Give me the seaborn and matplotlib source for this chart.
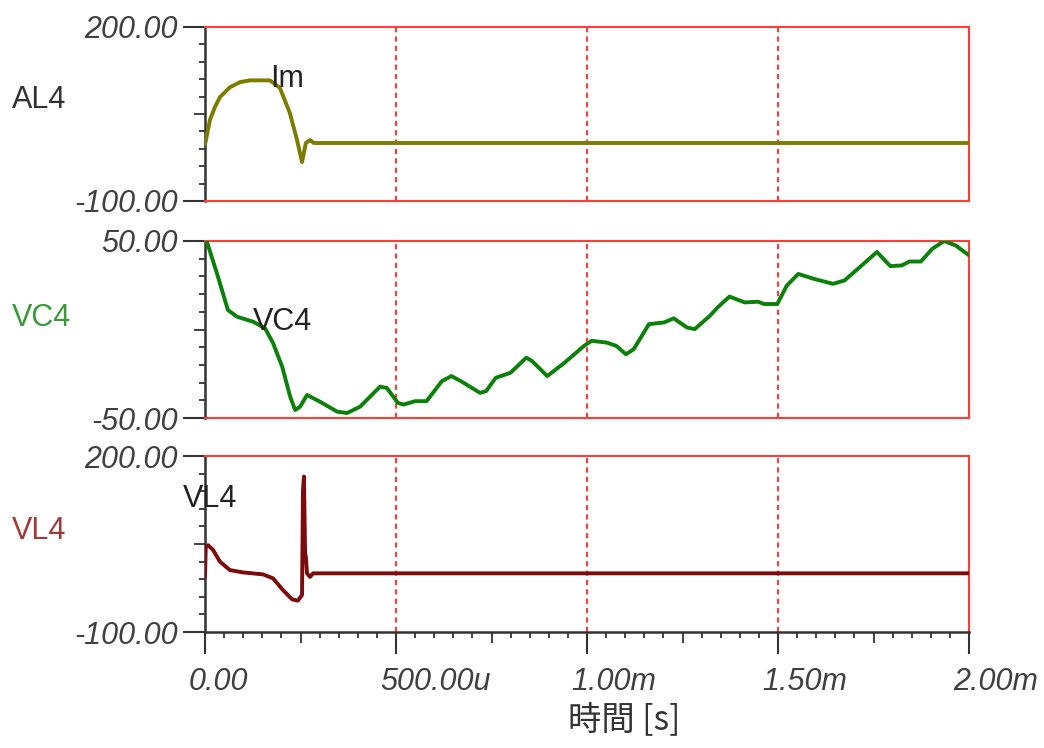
import numpy as np
import pandas as pd
import matplotlib
matplotlib.use("Agg")
import matplotlib.pyplot as plt
import matplotlib.transforms as mtrans
import seaborn as sns

# --- dados (tempo em ms) ---
t_al4 = [0.0, 0.013, 0.026, 0.039, 0.065, 0.092, 0.118, 0.170, 0.196, 0.222,
         0.241, 0.254, 0.264, 0.275, 0.285, 2.0]
v_al4 = [-3, 40, 62, 79, 96, 105, 108, 108, 95, 52,
         5, -33, 0, 5, 0, 0]

t_vc4 = [0.0, 0.005, 0.031, 0.060, 0.084, 0.126, 0.157, 0.178, 0.202, 0.223,
         0.236, 0.249, 0.267, 0.301, 0.346, 0.372, 0.406, 0.458, 0.476, 0.505,
         0.52, 0.55, 0.58, 0.62, 0.645, 0.67, 0.72, 0.736, 0.761, 0.80,
         0.841, 0.856, 0.896, 0.941, 0.992, 1.012, 1.052, 1.077, 1.102, 1.122,
         1.162, 1.202, 1.227, 1.262, 1.282, 1.322, 1.342, 1.373, 1.413, 1.448,
         1.463, 1.498, 1.523, 1.553, 1.594, 1.644, 1.674, 1.714, 1.759, 1.794,
         1.824, 1.844, 1.874, 1.904, 1.935, 1.965, 2.0]
v_vc4 = [50, 49.6, 31.9, 11, 7.2, 4.4, 0.8, -7.6, -21, -38,
         -45.5, -43.6, -37, -40.8, -46.4, -47.2, -43.6, -32.3, -33, -41.5,
         -42.4, -40.5, -40.5, -29.2, -26.3, -29.2, -35.8, -34.8, -27.3, -24.4,
         -15.9, -17.8, -26.3, -18.8, -9.3, -6.4, -7.4, -9.3, -14, -11.2,
         3, 4, 6.3, 1.1, 0.2, 7.8, 12.5, 18.6, 15.3, 15.7,
         14.4, 14.4, 24.8, 31.4, 28.6, 25.8, 27.7, 35.2, 43.8, 35.8,
         36.2, 38.4, 38.4, 45.6, 50, 47.5, 41.9]

t_vl4 = [0.0, 0.002, 0.008, 0.021, 0.039, 0.065, 0.099, 0.152, 0.178, 0.204,
         0.228, 0.243, 0.254, 0.2565, 0.259, 0.262, 0.264, 0.267, 0.275, 0.283, 2.0]
v_vl4 = [-5, 45, 48, 40, 20, 5.6, 1.6, -1.8, -8.5, -28.4,
         -44.3, -46.6, -37, 142, 165, 34.5, 28, 0, -6, 0, 0]

painel_nomes = ["AL4", "VC4", "VL4"]
painel_cores_linha = ["#7c7c00", "#0b800b", "#7d0b0b"]
painel_cores_rotulo = ["#333333", "#3a9a3a", "#a03a3a"]
painel_limites = [(-100, 200), (-50, 50), (-100, 200)]
rotulos_y = [("-100.00", "200.00"), ("-50.00", "50.00"), ("-100.00", "200.00")]
anotacoes = [("Im", 0.170, 96), ("VC4", 0.126, 0), ("VL4", -0.058, 113)]

x_ticks = [0.0, 0.5, 1.0, 1.5, 2.0]
x_rotulos = ["0.00", "500.00u", "1.00m", "1.50m", "2.00m"]
grade_x = [0.5, 1.0, 1.5]

series = [(t_al4, v_al4), (t_vc4, v_vc4), (t_vl4, v_vl4)]

sns.set_style("white")
plt.rcParams['font.family'] = ['Liberation Sans', 'Noto Sans CJK JP', 'DejaVu Sans']

fig = plt.figure(figsize=(10.44, 7.48), dpi=100)
W, H = 1044, 748
left, right = 205, 969
paineis_px = [(27, 201), (241, 418), (456, 632)]

vermelho = "#ff3b3b"
cinza = "#333333"
cor_texto = "#404040"

for i, (topo, base) in enumerate(paineis_px):
    ax = fig.add_axes([left / W, 1 - base / H, (right - left) / W, (base - topo) / H])
    t, v = series[i]
    df = pd.DataFrame({"t": t, "v": v})
    sns.lineplot(data=df, x="t", y="v", ax=ax, color=painel_cores_linha[i],
                 linewidth=2.8, sort=False, estimator=None, zorder=3)
    for gx in grade_x:
        ax.axvline(gx, color=vermelho, lw=1.5, ls=(0, (2.5, 2)), zorder=1)

    lo, hi = painel_limites[i]
    ax.set_xlim(0, 2.0)
    ax.set_ylim(lo, hi)
    ax.set_xlabel("")
    ax.set_ylabel("")

    # eixo y: rótulos só nas pontas, ticks menores a cada 1/10
    ax.set_yticks([lo, hi])
    ax.set_yticklabels(list(rotulos_y[i]))
    passo = (hi - lo) / 10
    ax.set_yticks([lo + passo * k for k in range(1, 10)], minor=True)
    ax.tick_params(axis="y", which="major", direction="out", length=16, width=1.5,
                   color=cinza, pad=3.5, labelsize=22, labelcolor=cor_texto, left=True)
    ax.tick_params(axis="y", which="minor", direction="out", length=4, width=1.3,
                   color=cinza, left=True)
    ax.yaxis.get_minor_ticks()[4].tick1line.set_markersize(8)
    for lab in ax.get_yticklabels():
        lab.set_fontstyle("italic")

    for lado in ["top", "right", "bottom"]:
        ax.spines[lado].set_color(vermelho)
        ax.spines[lado].set_linewidth(1.5)
        ax.spines[lado].set_visible(True)
    ax.spines["left"].set_color(cinza)
    ax.spines["left"].set_linewidth(1.8)
    ax.spines["left"].set_visible(True)

    if i < 2:
        ax.tick_params(axis="x", which="both", bottom=False, labelbottom=False)
    else:
        ax.spines["bottom"].set_color(cinza)
        ax.spines["bottom"].set_linewidth(1.8)
        ax.set_xticks(x_ticks)
        ax.set_xticklabels(x_rotulos)
        ax.set_xticks([k * 0.05 for k in range(41) if k % 10 != 0], minor=True)
        ax.tick_params(axis="x", which="major", direction="out", length=16, width=1.5,
                       color=cinza, pad=9, labelsize=22, labelcolor=cor_texto, bottom=True)
        ax.tick_params(axis="x", which="minor", direction="out", length=4, width=1.3,
                       color=cinza, bottom=True)
        for k, tk in enumerate(ax.xaxis.get_minor_ticks()):
            if k % 9 == 4:
                tk.tick1line.set_markersize(8)
        desloc = mtrans.ScaledTranslation(-0.16, 0, fig.dpi_scale_trans)
        for lab in ax.get_xticklabels():
            lab.set_fontstyle("italic")
            lab.set_ha("left")
            lab.set_transform(lab.get_transform() + desloc)

    # nome do sinal à esquerda
    fig.text(12 / W, 1 - [100, 318, 531][i] / H, painel_nomes[i], ha="left", va="center",
             fontsize=22, color=painel_cores_rotulo[i])
    # anotação dentro do gráfico
    txt, tx, ty = anotacoes[i]
    ax.text(tx, ty, txt, ha="left", va="baseline", fontsize=22, color="#222222",
            zorder=4, clip_on=False)

fig.text(624 / W, 1 - 720 / H, "時間 [s]", ha="center", va="center", fontsize=24,
         color="#333333", family=['Noto Sans CJK JP', 'Liberation Sans'])

fig.savefig("out.png", dpi=100)
